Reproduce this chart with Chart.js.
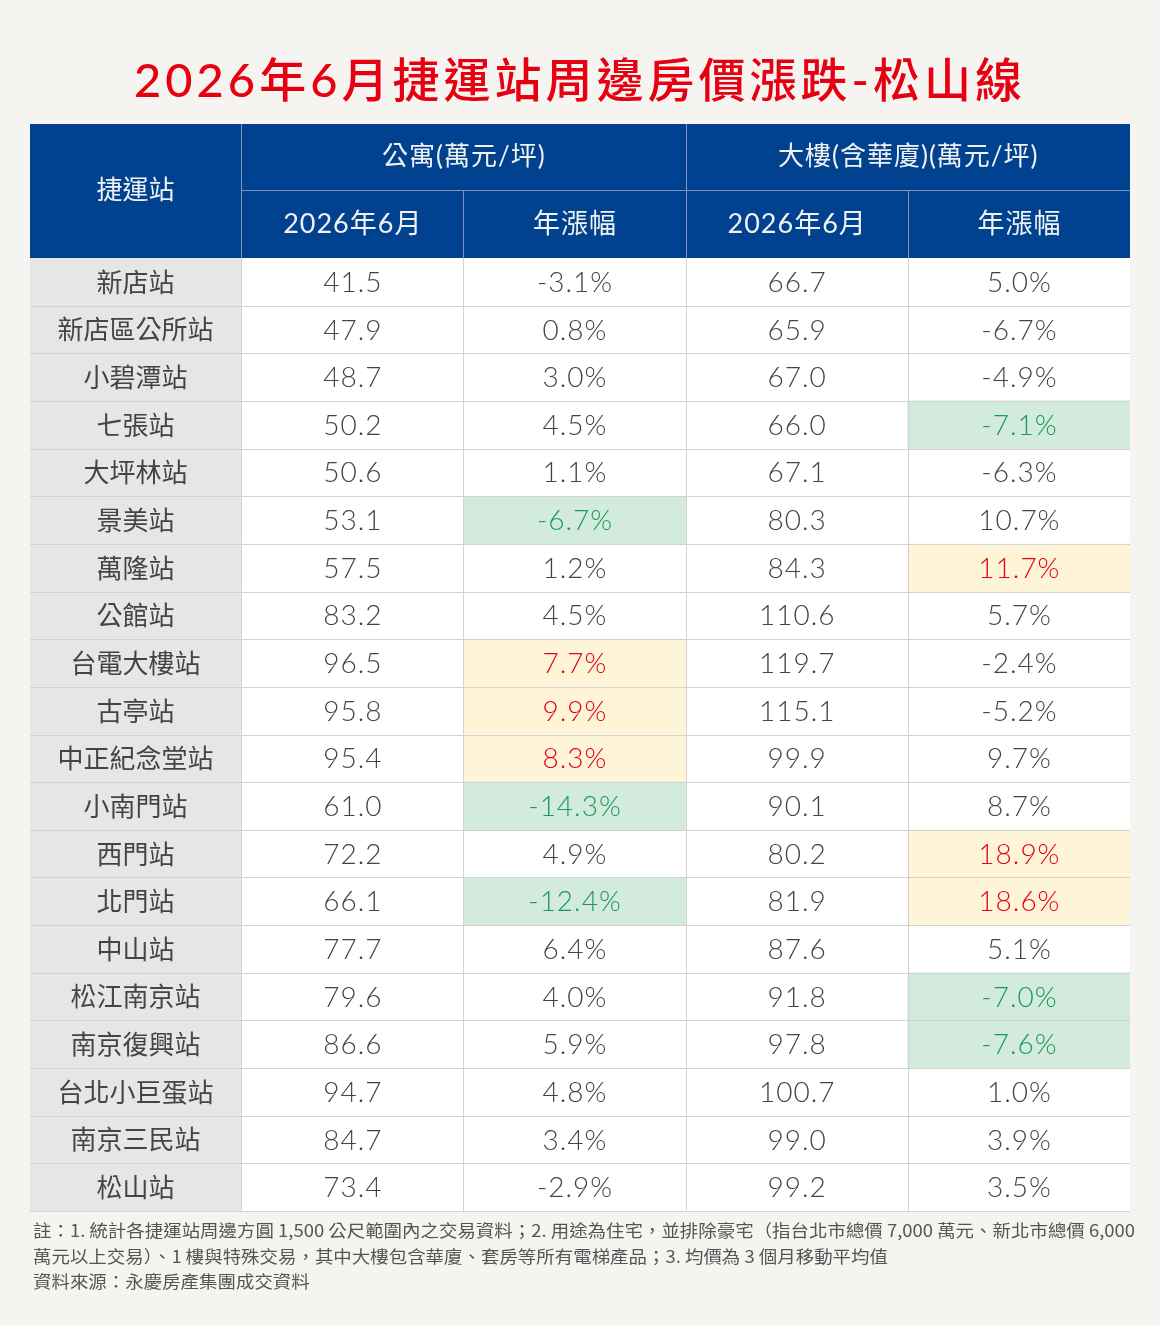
<!DOCTYPE html>
<html>
<head>
<meta charset="utf-8">
<script src="https://cdn.jsdelivr.net/npm/chart.js@4.4.1/dist/chart.umd.min.js"></script>
<style>
  html, body { margin:0; padding:0; background:#f5f4f0; }
  #wrap { position:relative; width:1160px; height:1325px; overflow:hidden; background:#f5f4f0; }
  #chartBox { position:absolute; left:0; top:0; width:1160px; height:1325px; }
  #title { position:absolute; left:0; top:46px; width:1160px; text-align:center;
    font-family: Lato, "Noto Sans CJK TC", sans-serif; font-size:47px; font-weight:500;
    color:#e60012; letter-spacing:4px; line-height:66px; white-space:nowrap; }
  .note { position:absolute; left:33px; font-family:"Noto Sans CJK TC", sans-serif; font-size:17px;
    color:#555; white-space:nowrap; transform-origin:0 50%; line-height:24px; }
</style>
</head>
<body>
<div id="wrap">
  <div id="chartBox"><canvas id="c"></canvas></div>
  <div id="title">2026年6月捷運站周邊房價漲跌-松山線</div>
  <div class="note" id="n1" style="top:1218px">註：1. 統計各捷運站周邊方圓 1,500 公尺範圍內之交易資料；2. 用途為住宅，並排除豪宅（指台北市總價 7,000 萬元、新北市總價 6,000</div>
  <div class="note" id="n2" style="top:1244px">萬元以上交易）、1 樓與特殊交易，其中大樓包含華廈、套房等所有電梯產品；3. 均價為 3 個月移動平均值</div>
  <div class="note" id="n3" style="top:1269px">資料來源：永慶房產集團成交資料</div>
</div>
<script>
// ---------------- DATA ----------------
const stations = ["新店站","新店區公所站","小碧潭站","七張站","大坪林站","景美站","萬隆站","公館站","台電大樓站","古亭站","中正紀念堂站","小南門站","西門站","北門站","中山站","松江南京站","南京復興站","台北小巨蛋站","南京三民站","松山站"];
const aptPrice  = [41.5,47.9,48.7,50.2,50.6,53.1,57.5,83.2,96.5,95.8,95.4,61.0,72.2,66.1,77.7,79.6,86.6,94.7,84.7,73.4];
const aptChange = [-3.1,0.8,3.0,4.5,1.1,-6.7,1.2,4.5,7.7,9.9,8.3,-14.3,4.9,-12.4,6.4,4.0,5.9,4.8,3.4,-2.9];
const bldPrice  = [66.7,65.9,67.0,66.0,67.1,80.3,84.3,110.6,119.7,115.1,99.9,90.1,80.2,81.9,87.6,91.8,97.8,100.7,99.0,99.2];
const bldChange = [5.0,-6.7,-4.9,-7.1,-6.3,10.7,11.7,5.7,-2.4,-5.2,9.7,8.7,18.9,18.6,5.1,-7.0,-7.6,1.0,3.9,3.5];
const headerTop = ["捷運站","公寓(萬元/坪)","大樓(含華廈)(萬元/坪)"];
const headerSub = ["2026年6月","年漲幅","2026年6月","年漲幅"];
// ---------------------------------------

// top 3 / bottom 3 of each change column are highlighted
function rankClass(arr){
  const sorted = arr.map((v,i)=>({v,i})).sort((a,b)=>a.v-b.v);
  const cls = arr.map(()=>0);
  sorted.slice(0,3).forEach(o=>cls[o.i]=-1);
  sorted.slice(-3).forEach(o=>cls[o.i]=1);
  return cls;
}
const aptCls = rankClass(aptChange);
const bldCls = rankClass(bldChange);

const X_MIN = 1 - 211/222;   // first column slightly narrower
const GREEN_BG = '#d3ebdf', YELLOW_BG = '#fef5d8', GREEN_TX = '#1c9a55', RED_TX = '#e60012';
const TEXT = '#444444', GRID = '#d2d2d2';
const NUM_FONT = 'Lato, "Noto Sans CJK TC", sans-serif';

const fmtP = v => v.toFixed(1);
const fmtC = v => v.toFixed(1) + '%';

function spaced(ctx, text, cx, cy, sp){
  // centered text with letter spacing
  const chars = [...text];
  const widths = chars.map(c => ctx.measureText(c).width);
  const total = widths.reduce((a,b)=>a+b,0) + sp*(chars.length-1);
  let px = cx - total/2;
  const al = ctx.textAlign; ctx.textAlign = 'left';
  chars.forEach((c,k)=>{ ctx.fillText(c, px, cy); px += widths[k] + sp; });
  ctx.textAlign = al;
}

const tablePlugin = {
  id:'tablePlugin',
  afterDatasetsDraw(chart){
    const {ctx, chartArea:ca, scales:{x,y}} = chart;
    ctx.save();
    ctx.strokeStyle = GRID; ctx.lineWidth = 1;
    const rowH = (y.getPixelForValue(1) - y.getPixelForValue(0));
    for (let i=1;i<=stations.length;i++){
      const py = Math.round(y.getPixelForValue(i) - rowH/2) + 0.5;
      ctx.beginPath(); ctx.moveTo(ca.left, py); ctx.lineTo(ca.right, py); ctx.stroke();
    }
    for (let c=1;c<=4;c++){
      const px = Math.round(x.getPixelForValue(c)) + 0.5;
      ctx.beginPath(); ctx.moveTo(px, ca.top); ctx.lineTo(px, ca.bottom); ctx.stroke();
    }
    ctx.textAlign='center'; ctx.textBaseline='middle';
    stations.forEach((s,i)=>{
      const py = y.getPixelForValue(i) + 1;
      ctx.font = '400 26px "Noto Sans CJK TC", sans-serif';
      ctx.fillStyle = TEXT;
      ctx.fillText(s, x.getPixelForValue((X_MIN+1)/2), py - 1);
      ctx.font = '300 28px ' + NUM_FONT;
      ctx.fillStyle = TEXT;
      spaced(ctx, fmtP(aptPrice[i]), x.getPixelForValue(1.5), py, 1);
      ctx.fillStyle = aptCls[i]===-1 ? GREEN_TX : aptCls[i]===1 ? RED_TX : TEXT;
      spaced(ctx, fmtC(aptChange[i]), x.getPixelForValue(2.5), py, 1);
      ctx.fillStyle = TEXT;
      spaced(ctx, fmtP(bldPrice[i]), x.getPixelForValue(3.5), py, 1);
      ctx.fillStyle = bldCls[i]===-1 ? GREEN_TX : bldCls[i]===1 ? RED_TX : TEXT;
      spaced(ctx, fmtC(bldChange[i]), x.getPixelForValue(4.5), py, 1);
    });
    ctx.restore();
  },
  afterDraw(chart){
    const {ctx, chartArea:ca, scales:{x}} = chart;
    const bottom = ca.top, mid = ca.top - 68, top = ca.top - 134;
    const L = x.getPixelForValue(X_MIN), R = x.getPixelForValue(5);
    ctx.save();
    ctx.fillStyle = '#00428f';
    ctx.fillRect(L, top, R-L, bottom-top);
    ctx.strokeStyle = '#7d96c4'; ctx.lineWidth = 1;
    const vline = (v, y0, y1) => { const px = Math.round(x.getPixelForValue(v))+0.5; ctx.beginPath(); ctx.moveTo(px,y0); ctx.lineTo(px,y1); ctx.stroke(); };
    vline(1, top, bottom); vline(3, top, bottom);
    vline(2, mid, bottom); vline(4, mid, bottom);
    ctx.beginPath(); ctx.moveTo(x.getPixelForValue(1), Math.round(mid)+0.5); ctx.lineTo(R, Math.round(mid)+0.5); ctx.stroke();
    ctx.fillStyle = '#f2f2f2'; ctx.textAlign='center'; ctx.textBaseline='middle';
    ctx.font = '400 26px ' + NUM_FONT;
    ctx.fillText(headerTop[0], x.getPixelForValue((X_MIN+1)/2), (top+bottom)/2);
    spaced(ctx, headerTop[1], x.getPixelForValue(2), (top+mid)/2, 1);
    spaced(ctx, headerTop[2], x.getPixelForValue(4), (top+mid)/2, 1);
    headerSub.forEach((t,k)=>{
      ctx.font = '400 27px ' + NUM_FONT;
      spaced(ctx, t, x.getPixelForValue(1.5+k), (mid+bottom)/2, 1);
    });
    ctx.restore();
  }
};

const span = (a,b) => stations.map(()=>[a,b]);
const hl = (cls, a, b) => cls.map(c => c ? [a,b] : null);
const hlColor = cls => cls.map(c => c===-1 ? GREEN_BG : c===1 ? YELLOW_BG : 'rgba(0,0,0,0)');

new Chart(document.getElementById('c'), {
  type:'bar',
  data:{
    labels: stations,
    datasets:[
      {data: hl(aptCls,2,3), backgroundColor: hlColor(aptCls), order:0},
      {data: hl(bldCls,4,5), backgroundColor: hlColor(bldCls), order:0},
      {data: span(1,5), backgroundColor:'#ffffff', order:1},
      {data: span(X_MIN,1), backgroundColor:'#e6e6e6', order:1}
    ]
  },
  options:{
    indexAxis:'y',
    responsive:true, maintainAspectRatio:false, animation:false,
    devicePixelRatio: 1,
    layout:{padding:{left:30, right:30, top:258, bottom:114}},
    datasets:{bar:{grouped:false, barPercentage:1, categoryPercentage:1, borderWidth:0, borderSkipped:false}},
    plugins:{legend:{display:false}, tooltip:{enabled:false}, title:{display:false}},
    scales:{
      x:{type:'linear', min:X_MIN, max:5, display:false},
      y:{type:'category', display:false, offset:true}
    }
  },
  plugins:[tablePlugin]
});

(function(){
  const n1 = document.getElementById('n1');
  const w = n1.getBoundingClientRect().width;
  const s = 1102 / w;
  ['n1','n2','n3'].forEach(id => document.getElementById(id).style.transform = 'scaleX(' + s + ')');
})();
</script>
</body>
</html>
